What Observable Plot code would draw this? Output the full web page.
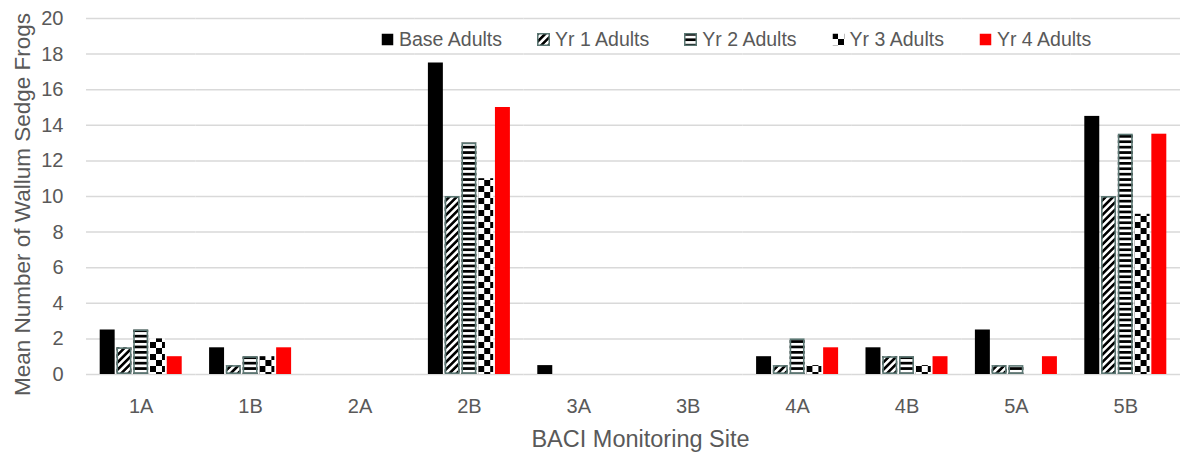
<!DOCTYPE html>
<html>
<head>
<meta charset="utf-8">
<script src="https://cdn.jsdelivr.net/npm/d3@7"></script>
<script src="https://cdn.jsdelivr.net/npm/@observablehq/plot@0.6"></script>
<style>
  body { margin: 0; background: #fff; font-family: "Liberation Sans", Arial, sans-serif; }
  #chart { position: relative; width: 1192px; height: 461px; }
  #legend { position: absolute; left: 381px; top: 28px; display: flex; align-items: center;
            font-size: 19.5px; color: #595959; white-space: nowrap; }
  #legend .item { display: flex; align-items: center; margin-right: 35px; }
  #legend .item svg { margin-right: 5px; display: block; }
  g[aria-label="y-axis label"] text { font-size: 22.5px; }
  g[aria-label="fx-axis label"] text { font-size: 23.5px; }
</style>
</head>
<body>
<div id="chart"><div id="legend"></div></div>
<script>
// Monitoring sites along the x axis
const sites = ["1A", "1B", "2A", "2B", "3A", "3B", "4A", "4B", "5A", "5B"];
// Survey periods (one bar per period within each site)
const seriesNames = ["Base Adults", "Yr 1 Adults", "Yr 2 Adults", "Yr 3 Adults", "Yr 4 Adults"];
// Mean adult frog counts per site, one array per survey period
const baseAdults = [2.5, 1.5, 0, 17.5, 0.5, 0, 1.0, 1.5, 2.5, 14.5];
const yr1Adults  = [1.5, 0.5, 0, 10.0, 0,   0, 0.5, 1.0, 0.5, 10.0];
const yr2Adults  = [2.5, 1.0, 0, 13.0, 0,   0, 2.0, 1.0, 0.5, 13.5];
const yr3Adults  = [2.0, 1.0, 0, 11.0, 0,   0, 0.5, 0.5, 0,   9.0];
const yr4Adults  = [1.0, 1.5, 0, 15.0, 0,   0, 1.5, 1.0, 1.0, 13.5];
// Y axis tick values
const yTicks = [0, 2, 4, 6, 8, 10, 12, 14, 16, 18, 20];

const seriesValues = [baseAdults, yr1Adults, yr2Adults, yr3Adults, yr4Adults];
const table = sites.flatMap((site, i) =>
  seriesNames.map((series, j) => ({site, series, value: seriesValues[j][i]}))
);

// Fills: solid black, diagonal hatch, horizontal stripes, checkerboard, solid red
const fills = ["#000000", "url(#hatchDiag)", "url(#hatchHoriz)", "url(#checker)", "#ff0000"];
const outlined = new Set(["Yr 1 Adults", "Yr 2 Adults"]);
const outlineColor = "#5b7773";

const chart = Plot.plot({
  width: 1192,
  height: 461,
  marginLeft: 86,
  marginRight: 12,
  marginTop: 18,
  marginBottom: 87,
  style: {fontFamily: '"Liberation Sans", Arial, sans-serif', background: "transparent", overflow: "visible"},
  fx: {domain: sites, padding: 0, round: false},
  x: {domain: seriesNames, paddingInner: 0.107, paddingOuter: 0.817, round: false, axis: null},
  y: {domain: [0, 20]},
  color: {domain: seriesNames, range: fills},
  marks: [
    Plot.gridY(yTicks, {stroke: "#d9d9d9", strokeOpacity: 1, strokeWidth: 1.5}),
    Plot.barY(table, {fx: "site", x: "series", y: "value", fill: "series"}),
    Plot.barY(table.filter(d => outlined.has(d.series) && d.value > 0), {
      fx: "site", x: "series", y: "value", fill: "none",
      stroke: outlineColor, strokeWidth: 1.6, inset: 0.8
    }),
    Plot.axisY(yTicks, {
      tickSize: 0, tickPadding: 23, fontSize: 20, fill: "#595959",
      label: "Mean Number of Wallum Sedge Frogs", labelAnchor: "center",
      labelOffset: 72, labelArrow: "none"
    }),
    Plot.axisFx({
      anchor: "bottom", tickSize: 0, tickPadding: 24, fontSize: 20, fill: "#595959",
      label: "BACI Monitoring Site", labelAnchor: "center", labelOffset: 72, labelArrow: "none"
    })
  ]
});

// Nudge the axis titles: y title a little lower, x title a little right
function nudge(selector, dx) {
  d3.select(chart).selectAll(selector).each(function() {
    const t = this.getAttribute("transform") || "";
    this.setAttribute("transform", `${t} translate(${dx},0)`);
  });
}
nudge('g[aria-label="y-axis label"] text', -8);
nudge('g[aria-label="fx-axis label"] text', 7);

// Pattern definitions used by the hatched bars and legend swatches
const defs = d3.select(chart).insert("defs", ":first-child");
const diag = defs.append("pattern").attr("id", "hatchDiag")
  .attr("patternUnits", "userSpaceOnUse").attr("width", 5.2).attr("height", 5.2)
  .attr("patternTransform", "rotate(45)");
diag.append("rect").attr("width", 5.2).attr("height", 5.2).attr("fill", "#fff");
diag.append("rect").attr("width", 2.6).attr("height", 5.2).attr("fill", "#000");

const horiz = defs.append("pattern").attr("id", "hatchHoriz")
  .attr("patternUnits", "userSpaceOnUse").attr("width", 6).attr("height", 5.4);
horiz.append("rect").attr("width", 6).attr("height", 5.4).attr("fill", "#fff");
horiz.append("rect").attr("width", 6).attr("height", 2.7).attr("fill", "#000");

const checker = defs.append("pattern").attr("id", "checker")
  .attr("patternUnits", "userSpaceOnUse").attr("width", 12).attr("height", 12);
checker.append("rect").attr("width", 12).attr("height", 12).attr("fill", "#fff");
checker.append("rect").attr("width", 6).attr("height", 6).attr("fill", "#000");
checker.append("rect").attr("x", 6).attr("y", 6).attr("width", 6).attr("height", 6).attr("fill", "#000");

document.getElementById("chart").prepend(chart);

// Legend row
const legend = d3.select("#legend");
seriesNames.forEach((name, i) => {
  const item = legend.append("div").attr("class", "item");
  const sw = item.append("svg").attr("width", 13).attr("height", 13);
  sw.append("rect")
    .attr("x", 0.75).attr("y", 0.75).attr("width", 11.5).attr("height", 11.5)
    .attr("fill", fills[i])
    .attr("stroke", outlined.has(name) ? outlineColor : "none")
    .attr("stroke-width", outlined.has(name) ? 1.5 : 0);
  item.append("span").text(name);
});
</script>
</body>
</html>
